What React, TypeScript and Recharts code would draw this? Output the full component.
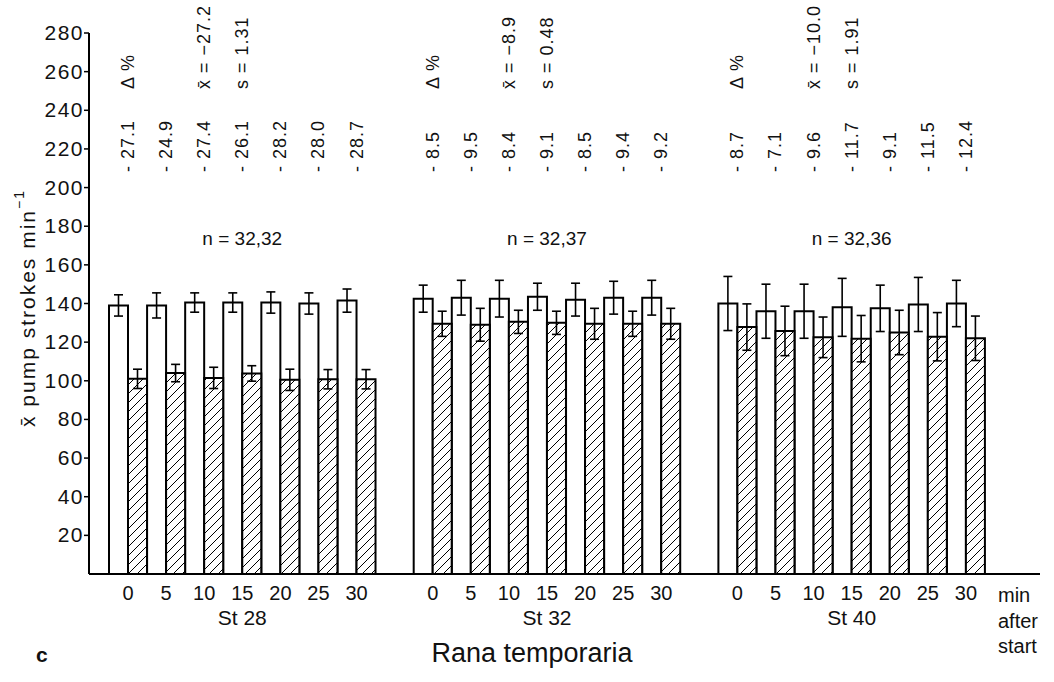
import { BarChart, Bar, XAxis, YAxis, ErrorBar, LabelList } from "recharts";

const TIMES = ["0", "5", "10", "15", "20", "25", "30"];
const STAGES = ["St 28", "St 32", "St 40"];
const Y_TICKS = [20, 40, 60, 80, 100, 120, 140, 160, 180, 200, 220, 240, 260, 280];

// white bars (before) and hatched bars (after), one row per stage
const CONTROL_MEAN = [
  [139, 139, 140.5, 140.5, 140.5, 140, 141.5],
  [142.5, 143, 142.5, 143.5, 142, 143, 143],
  [140, 136, 136, 138, 137.5, 139.5, 140],
];
const CONTROL_SD = [
  [5.5, 6.5, 5, 5, 5.5, 5.5, 6],
  [7, 9, 9.5, 7, 8.5, 8.5, 9],
  [14, 14, 14, 15, 12, 14, 12],
];
const TREATED_MEAN = [
  [101, 104, 101.5, 103.8, 100.5, 100.8, 100.8],
  [129.5, 129, 130.5, 130, 129.5, 129.5, 129.5],
  [127.8, 125.8, 122.5, 121.8, 125, 122.8, 122],
];
const TREATED_SD = [
  [5, 4.5, 5.5, 4, 5.5, 5, 5],
  [6.5, 8.5, 6, 6, 8, 6.5, 8],
  [12, 12.8, 10.5, 12, 11.5, 12.5, 11.5],
];
const DELTA_PCT = [
  [27.1, 24.9, 27.4, 26.1, 28.2, 28.0, 28.7],
  [8.5, 9.5, 8.4, 9.1, 8.5, 9.4, 9.2],
  [8.7, 7.1, 9.6, 11.7, 9.1, 11.5, 12.4],
];
const MEAN_DELTA = ["27.2", "8.9", "10.0"];
const SD_DELTA = ["1.31", "0.48", "1.91"];
const N_LABELS = ["32,32", "32,37", "32,36"];

const FONT = "'Liberation Sans', Arial, Helvetica, sans-serif";

type Row = {
  key: string;
  label: string;
  stage?: string;
  control?: number;
  controlSd?: number;
  treated?: number;
  treatedSd?: number;
  delta?: string;
  head?: string;
  n?: string;
};

const rows: Row[] = [];
STAGES.forEach((st, g) => {
  if (g > 0) rows.push({ key: `gap${g}`, label: "" });
  TIMES.forEach((t, i) => {
    let head: string | undefined;
    if (i === 0) head = "Δ %";
    if (i === 2) head = `x\u0304 = −${MEAN_DELTA[g]}`;
    if (i === 3) head = `s = ${SD_DELTA[g]}`;
    rows.push({
      key: `${st}-${t}`,
      label: t,
      stage: i === 3 ? st : undefined,
      control: CONTROL_MEAN[g][i],
      controlSd: CONTROL_SD[g][i],
      treated: TREATED_MEAN[g][i],
      treatedSd: TREATED_SD[g][i],
      delta: `- ${DELTA_PCT[g][i].toFixed(1)}`,
      head,
      n: i === 3 ? `n = ${N_LABELS[g]}` : undefined,
    });
  });
});

function rotated(cx: number, by: number, text: string) {
  return (
    <text
      transform={`rotate(-90 ${cx} ${by})`}
      x={cx}
      y={by}
      textAnchor="start"
      dominantBaseline="central"
      fontSize={18}
      letterSpacing={1}
      fontFamily={FONT}
      fill="#111"
    >
      {text}
    </text>
  );
}

const deltaLabel = (props: any) => {
  const { x, width, value } = props;
  if (value == null || value === "") return null;
  return rotated(Number(x) + Number(width), 172, String(value));
};

const headLabel = (props: any) => {
  const { x, width, value } = props;
  if (value == null || value === "") return null;
  return rotated(Number(x) + Number(width), 89, String(value));
};

const nLabel = (props: any) => {
  const { x, width, value } = props;
  if (value == null || value === "") return null;
  return (
    <text
      x={Number(x) + Number(width)}
      y={245}
      textAnchor="middle"
      fontSize={19}
      fontFamily={FONT}
      fill="#111"
    >
      {value}
    </text>
  );
};

const XTick = (props: any) => {
  const { x, y, payload } = props;
  const row = rows.find((r) => r.key === payload.value);
  if (!row) return null;
  return (
    <g>
      <text x={x} y={y + 24} textAnchor="middle" fontSize={20} fontFamily={FONT} fill="#111">
        {row.label}
      </text>
      {row.stage && (
        <text x={x} y={y + 49} textAnchor="middle" fontSize={21} fontFamily={FONT} fill="#111">
          {row.stage}
        </text>
      )}
    </g>
  );
};

const YTick = (props: any) => {
  const { x, y, payload } = props;
  return (
    <text
      x={x}
      y={y}
      dy={7}
      textAnchor="end"
      fontSize={21}
      letterSpacing={1.5}
      fontFamily={FONT}
      fill="#111"
    >
      {payload.value}
    </text>
  );
};

export default function App() {
  return (
    <div style={{ position: "absolute", left: 0, top: 0, width: 1054, height: 682, background: "#fff" }}>
      <BarChart
        width={1054}
        height={682}
        data={rows}
        margin={{ top: 33, right: 14, left: 0, bottom: 0 }}
        barGap={0}
        barCategoryGap={0}
      >
        <defs>
          <pattern id="hatch" patternUnits="userSpaceOnUse" width="9" height="9">
            <rect width="9" height="9" fill="#fff" />
            <path d="M-2,2 l4,-4 M0,9 l9,-9 M7,11 l4,-4" stroke="#000" strokeWidth="1" />
          </pattern>
        </defs>
        <XAxis
          dataKey="key"
          height={108}
          interval={0}
          padding={{ left: 20, right: 55 }}
          tickLine={false}
          tickSize={0}
          tick={XTick}
          stroke="#000"
          axisLine={{ stroke: "#000", strokeWidth: 2 }}
        />
        <YAxis
          width={89}
          domain={[0, 280]}
          ticks={Y_TICKS}
          tickSize={5}
          tickMargin={0}
          tick={YTick}
          stroke="#000"
          axisLine={{ stroke: "#000", strokeWidth: 2 }}
          tickLine={{ stroke: "#000", strokeWidth: 1.5 }}
        />
        <Bar dataKey="control" fill="#fff" stroke="#000" strokeWidth={2} isAnimationActive={false}>
          <ErrorBar dataKey="controlSd" width={4.5} stroke="#000" strokeWidth={1.6} />
          <LabelList dataKey="delta" content={deltaLabel} />
          <LabelList dataKey="head" content={headLabel} />
          <LabelList dataKey="n" content={nLabel} />
        </Bar>
        <Bar dataKey="treated" fill="url(#hatch)" stroke="#000" strokeWidth={2} isAnimationActive={false}>
          <ErrorBar dataKey="treatedSd" width={4.5} stroke="#000" strokeWidth={1.6} />
        </Bar>
      </BarChart>
      <svg
        width={1054}
        height={682}
        style={{ position: "absolute", left: 0, top: 0, pointerEvents: "none" }}
        fontFamily={FONT}
        fill="#111"
      >
        <text
          transform="rotate(-90 27 308)"
          x={27}
          y={308}
          textAnchor="middle"
          dominantBaseline="central"
          fontSize={21}
          letterSpacing={2}
        >
          x̄ pump strokes min<tspan dy={-8} fontSize={14}>−1</tspan>
        </text>
        <text x={998} y={602} fontSize={20}>min</text>
        <text x={998} y={628} fontSize={20}>after</text>
        <text x={998} y={653} fontSize={20}>start</text>
        <text x={36} y={662} fontSize={21} fontWeight="bold">c</text>
        <text x={532} y={662} fontSize={27} textAnchor="middle">Rana temporaria</text>
      </svg>
    </div>
  );
}
